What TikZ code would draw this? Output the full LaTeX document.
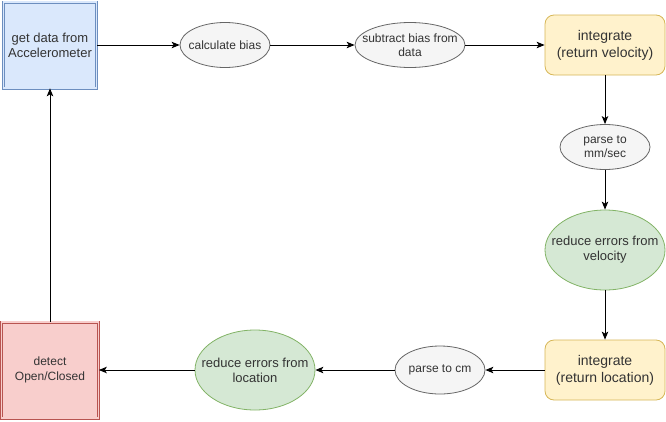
\documentclass[tikz,border=0pt]{standalone}
\usepackage{fontspec}
\setmainfont{Liberation Sans}
\usetikzlibrary{arrows.meta,shapes.geometric}

\definecolor{blueline}{HTML}{6C8EBF}
\definecolor{bluefill}{HTML}{DAE8FC}
\definecolor{redline}{HTML}{B85450}
\definecolor{redfill}{HTML}{F8CECC}
\definecolor{greenline}{HTML}{82B366}
\definecolor{greenfill}{HTML}{D5E8D4}
\definecolor{yelline}{HTML}{D6B656}
\definecolor{yelfill}{HTML}{FFF2CC}
\definecolor{grayline}{HTML}{666666}
\definecolor{grayfill}{HTML}{F5F5F5}
\definecolor{graytext}{HTML}{333333}

\tikzset{
  dblbox/.style={rectangle, line width=0.7pt, double distance=1.6pt, inner sep=0pt, align=center, text=graytext},
  yelbox/.style={rectangle, rounded corners=9pt, draw=yelline, fill=yelfill, line width=0.8pt,
    minimum width=120pt, minimum height=60pt, inner sep=0pt, align=center, text=graytext,
    font=\fontsize{14}{17}\selectfont},
  grayell/.style={ellipse, draw=grayline, fill=grayfill, line width=0.8pt, minimum width=90pt,
    minimum height=45pt, inner ysep=0pt, inner xsep=-20pt, align=center, text=graytext,
    font=\fontsize{12}{14}\selectfont},
  greenell/.style={ellipse, draw=greenline, fill=greenfill, line width=0.8pt, minimum width=120pt,
    minimum height=80pt, inner ysep=0pt, inner xsep=-20pt, align=center, text=graytext,
    font=\fontsize{13}{15}\selectfont},
  flow/.style={line width=1pt, -{Stealth[length=8pt,width=6.5pt,inset=2pt]}}
}

\begin{document}
\begin{tikzpicture}[x=1pt,y=-1pt]
\useasboundingbox (0,0) rectangle (666,421);

% top row
\node[dblbox, draw=blueline, double=bluefill, fill=bluefill, minimum width=93pt, minimum height=86pt,
  font=\fontsize{13}{15}\selectfont] (acc) at (50,45) {get data from\\Accelerometer};
\node[grayell] (bias) at (225,45) {calculate bias};
\node[grayell, minimum width=110pt] (sub) at (410,45) {subtract bias from\\data};
\node[yelbox] (intvel) at (605,45) {integrate\\(return velocity)};

% right column
\node[grayell] (mmsec) at (605,147) {parse to\\mm/sec};
\node[greenell] (errvel) at (605,250) {reduce errors from\\velocity};

% bottom row
\node[yelbox] (intloc) at (605,370) {integrate\\(return location)};
\node[grayell, minimum height=48pt] (cm) at (440,370) {parse to cm};
\node[greenell] (errloc) at (255,370) {reduce errors from\\location};
\node[dblbox, draw=redline, double=redfill, fill=redfill, minimum width=97pt, minimum height=96pt,
  font=\fontsize{12}{15}\selectfont] (detect) at (50,370) {detect\\Open/Closed};

\draw[flow] (acc) -- (bias);
\draw[flow] (bias) -- (sub);
\draw[flow] (sub) -- (intvel);
\draw[flow] (intvel) -- (mmsec);
\draw[flow] (mmsec) -- (errvel);
\draw[flow] (errvel) -- (intloc);
\draw[flow] (intloc) -- (cm);
\draw[flow] (cm) -- (errloc);
\draw[flow] (errloc) -- (detect);
\draw[flow] (detect) -- (acc);

\end{tikzpicture}
\end{document}
